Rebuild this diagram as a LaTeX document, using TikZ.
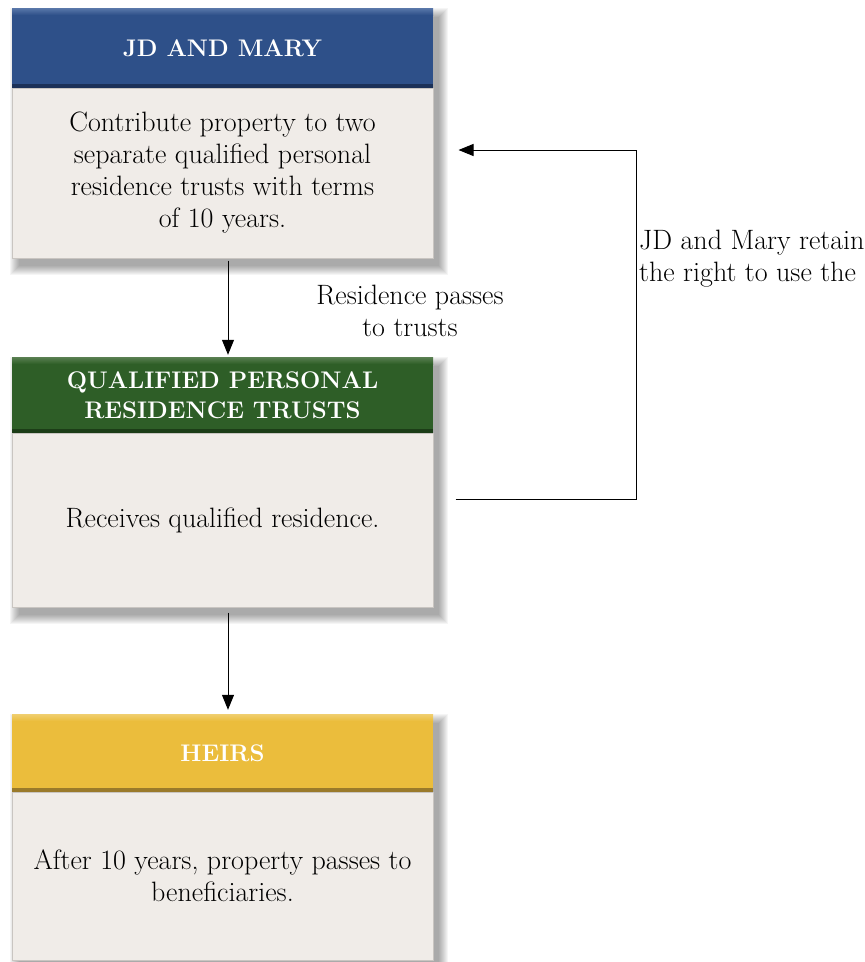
\documentclass[tikz,border=0pt]{standalone}
\usetikzlibrary{arrows.meta,calc}
\definecolor{hdblue}{HTML}{2E5089}
\definecolor{hdbluetop}{HTML}{5A78AA}
\definecolor{hdbluedark}{HTML}{1C3158}
\definecolor{hdgreen}{HTML}{2E5E27}
\definecolor{hdgreentop}{HTML}{5A8052}
\definecolor{hdgreendark}{HTML}{1C3D17}
\definecolor{hdgold}{HTML}{EBBD3C}
\definecolor{hdgoldtop}{HTML}{F0CF70}
\definecolor{hdgolddark}{HTML}{9A7A2A}
\definecolor{bodyfill}{HTML}{F0ECE8}
\definecolor{bodyedge}{HTML}{C9C5C1}
\tikzset{
  headbox/.style={minimum width=421pt, inner sep=0pt, text=white,
    font=\fontsize{24}{30}\selectfont\bfseries, align=center},
  bodybox/.style={minimum width=421pt, inner sep=0pt, fill=bodyfill,
    draw=bodyedge, line width=1pt, font=\fontsize{28}{32}\selectfont,
    align=center},
  flow/.style={line width=1pt, -{Triangle[width=12pt,length=15pt]}},
  note/.style={font=\fontsize{28}{32}\selectfont, inner sep=0pt}
}
% soft drop shadow behind a box given by two corners
\newcommand{\boxshadow}[2]{%
  \foreach \e in {0,...,9}{%
    \fill[black,opacity=0.04]
      ([shift={(7-\e,9-\e)}]#1) rectangle ([shift={(6+\e,8+\e)}]#2);
  }%
}
% header band: solid fill, light top edge, dark bottom edge
\newcommand{\headband}[5]{% y-top, y-bottom, main, top, dark
  \fill[#3] (12,#1) rectangle (433,#2);
  \shade[top color=#4, bottom color=#3] (12,#1) rectangle (433,#1+7);
  \fill[#5] (12,#2-4) rectangle (433,#2);
}
\begin{document}
\begin{tikzpicture}[x=1pt,y=-1pt]
\useasboundingbox (0,0) rectangle (865,962);
\clip (0,0) rectangle (865,962);

% ---- box coordinates
\coordinate (b1tl) at (12,8);   \coordinate (b1br) at (433,258);
\coordinate (b2tl) at (12,357); \coordinate (b2br) at (433,607);
\coordinate (b3tl) at (12,714); \coordinate (b3br) at (433,960);

\boxshadow{b1tl}{b1br}
\boxshadow{b2tl}{b2br}
\boxshadow{b3tl}{b3br}

% ---- JD and Mary
\node[bodybox, minimum height=170pt] (body1) at (222.5,173) {Contribute property to two\\separate qualified personal\\residence trusts with terms\\of 10 years.};
\headband{8}{88}{hdblue}{hdbluetop}{hdbluedark}
\node[headbox, minimum height=80pt] (head1) at (222.5,48) {JD AND MARY};

% ---- Qualified personal residence trusts
\node[bodybox, minimum height=174pt] (body2) at (222.5,520) {Receives qualified residence.};
\headband{357}{433}{hdgreen}{hdgreentop}{hdgreendark}
\node[headbox, minimum height=76pt] (head2) at (222.5,395) {QUALIFIED PERSONAL\\RESIDENCE TRUSTS};

% ---- Heirs
\node[bodybox, minimum height=168pt] (body3) at (222.5,876) {After 10 years, property passes to\\beneficiaries.};
\headband{714}{792}{hdgold}{hdgoldtop}{hdgolddark}
\node[headbox, minimum height=78pt] (head3) at (222.5,753) {HEIRS};

% ---- connectors
\draw[flow] ([xshift=5.5pt, yshift=-2pt]body1.south) -- ([xshift=5.5pt, yshift=2pt]head2.north);
\draw[flow] ([xshift=5.5pt, yshift=-5pt]body2.south) -- ([xshift=5.5pt, yshift=4pt]head3.north);

\coordinate (fbstart) at ($(body2.east)+(22,-21)$);
\coordinate (fbend) at ($(body1.east)+(25,-23)$);
\coordinate (fbturn) at (636,0);
\draw[flow] (fbstart) -- (fbstart -| fbturn) -- (fbend -| fbturn) -- (fbend);

% ---- labels
\node[note, align=center] (lbl1) at (410,311) {Residence passes\\to trusts};
\node[note, align=left, anchor=west] (lbl2) at (639,259) {JD and Mary retain\\the right to use the};
\end{tikzpicture}
\end{document}
